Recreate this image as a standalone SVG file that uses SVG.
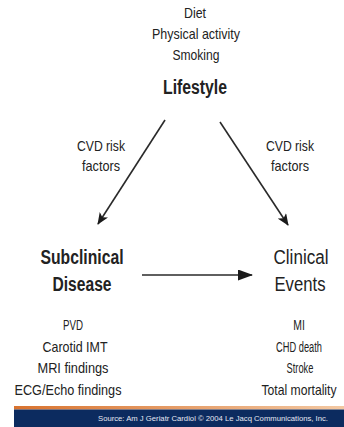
<svg xmlns="http://www.w3.org/2000/svg" width="344" height="427" viewBox="0 0 344 427">
<style>
text{font-family:"Liberation Sans",Arial,sans-serif;fill:#222;text-anchor:middle}
.s{font-size:14.5px}
.b{font-size:20px;font-weight:bold}
.m{font-size:20px}
.f{font-size:7.7px;fill:#e6e8f2;text-anchor:start}
.ln{stroke:#2a2a2a;stroke-width:1.6;fill:none}
</style>
<defs>
<marker id="ah" viewBox="0 0 12 10" refX="11" refY="5" markerWidth="12" markerHeight="10" markerUnits="userSpaceOnUse" orient="auto">
<path d="M0,0 L12,5 L0,10 L3,5 Z" fill="#1a1a1a"/>
</marker>
<marker id="ah2" viewBox="0 0 15 11" refX="14" refY="5.5" markerWidth="15" markerHeight="11" markerUnits="userSpaceOnUse" orient="auto">
<path d="M0,0 L15,5.5 L0,11 Z" fill="#1a1a1a"/>
</marker>
<linearGradient id="og" x1="0" x2="1" y1="0" y2="0">
<stop offset="0" stop-color="#d9732f"/>
<stop offset="1" stop-color="#f3c8a2"/>
</linearGradient>
</defs>
<g id="lifestyle">
<text class="s" x="195" y="18" textLength="22" lengthAdjust="spacingAndGlyphs">Diet</text>
<text class="s" x="196" y="39" textLength="88" lengthAdjust="spacingAndGlyphs">Physical activity</text>
<text class="s" x="196" y="60" textLength="47" lengthAdjust="spacingAndGlyphs">Smoking</text>
<text class="b" x="195" y="94" textLength="64" lengthAdjust="spacingAndGlyphs">Lifestyle</text>
</g>
<g id="subclinical">
<text class="b" x="82" y="264" textLength="83" lengthAdjust="spacingAndGlyphs">Subclinical</text>
<text class="b" x="82" y="291" textLength="59" lengthAdjust="spacingAndGlyphs">Disease</text>
<text class="s" x="73" y="330" textLength="20" lengthAdjust="spacingAndGlyphs">PVD</text>
<text class="s" x="75" y="352" textLength="65" lengthAdjust="spacingAndGlyphs">Carotid IMT</text>
<text class="s" x="73" y="373" textLength="71" lengthAdjust="spacingAndGlyphs">MRI findings</text>
<text class="s" x="68" y="395" textLength="107" lengthAdjust="spacingAndGlyphs">ECG/Echo findings</text>
</g>
<g id="clinical">
<text class="m" x="301" y="264" textLength="55" lengthAdjust="spacingAndGlyphs">Clinical</text>
<text class="m" x="300" y="291" textLength="51" lengthAdjust="spacingAndGlyphs">Events</text>
<text class="s" transform="translate(299,330) scale(0.72,1)">MI</text>
<text class="s" transform="translate(299,352) scale(0.64,1)">CHD death</text>
<text class="s" transform="translate(300,373) scale(0.64,1)">Stroke</text>
<text class="s" transform="translate(299,395) scale(0.84,1)">Total mortality</text>
</g>
<g id="connectors">
<line class="ln" x1="165" y1="120" x2="98" y2="224" marker-end="url(#ah)"/>
<line class="ln" x1="220" y1="122" x2="288" y2="225" marker-end="url(#ah)"/>
<line class="ln" x1="142" y1="275" x2="252" y2="275" stroke-width="2.2" marker-end="url(#ah2)"/>
<text class="s" x="101" y="151" textLength="48" lengthAdjust="spacingAndGlyphs">CVD risk</text>
<text class="s" x="101" y="171" textLength="38" lengthAdjust="spacingAndGlyphs">factors</text>
<text class="s" x="290" y="151" textLength="48" lengthAdjust="spacingAndGlyphs">CVD risk</text>
<text class="s" x="290" y="171" textLength="38" lengthAdjust="spacingAndGlyphs">factors</text>
</g>
<g id="footer">
<rect x="14" y="406" width="330" height="3.5" fill="url(#og)"/>
<rect x="14" y="409.5" width="330" height="17.5" fill="#0c2b5f"/>
<text class="f" x="98" y="421">Source: Am J Geriatr Cardiol © 2004 Le Jacq Communications, Inc.</text>
</g>
</svg>
